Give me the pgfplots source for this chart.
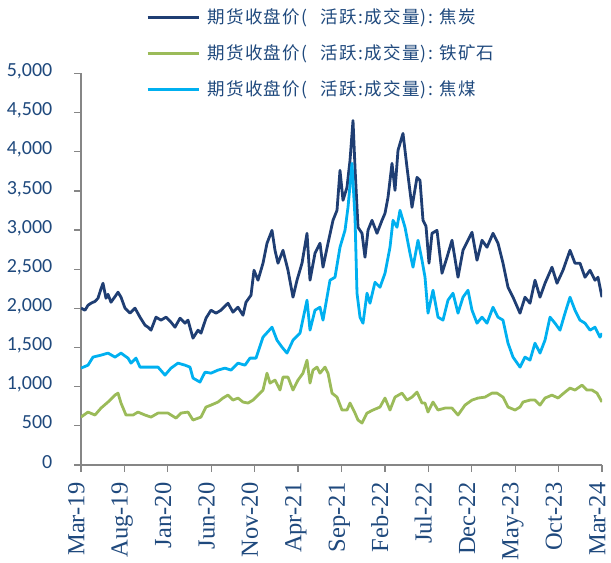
\documentclass[border=0pt]{standalone}
\usepackage{pgfplots}
\pgfplotsset{compat=1.18}
\usepackage{fontspec}
\setmainfont{Carlito}
\newfontfamily\timesf{Liberation Serif}
\newfontfamily\cjk[LetterSpace=8]{Noto Sans CJK SC}
\definecolor{cokec}{RGB}{31,62,115}
\definecolor{orec}{RGB}{155,187,89}
\definecolor{coalc}{RGB}{0,176,240}
\definecolor{labc}{RGB}{31,73,125}
\definecolor{axc}{RGB}{134,134,134}
\newcommand{\lgd}[1]{期货收盘价(\hspace{13bp}活跃:\hspace{1bp}成交量):\hspace{6bp}#1}
\begin{document}
\begin{tikzpicture}
\path[use as bounding box] (-81bp,-98bp) rectangle (530bp,465bp);
\begin{axis}[
  scale only axis, width=521bp, height=391.5bp,
  xmin=81, xmax=602, ymin=0, ymax=5000,
  axis x line*=bottom, axis y line*=left,
  axis line style={draw=axc, line width=1.2bp, -},
  tick align=outside,
  major tick length=6.5bp,
  tick style={draw=axc, line width=1.2bp},
  xtick={81,124.42,167.83,211.25,254.67,298.08,341.5,384.92,428.33,471.75,515.17,558.58,602},
  xticklabels={Mar-19,Aug-19,Jan-20,Jun-20,Nov-20,Apr-21,Sep-21,Feb-22,Jul-22,Dec-22,May-23,Oct-23,Mar-24},
  ytick={0,500,...,5000},
  scaled y ticks=false,
  /pgf/number format/1000 sep={,},
  /pgf/number format/assume math mode=true,
  xticklabel shift=11bp,
  yticklabel shift=22bp,
  xticklabel style={font=\timesf\fontsize{24.5bp}{28bp}\selectfont, text=labc, rotate=90, anchor=east, inner sep=0pt, text height=0.75em, text depth=0.09em},
  yticklabel style={font=\fontsize{20bp}{24bp}\selectfont, text=labc, anchor=east, inner sep=0pt, text height=0.632em, text depth=0pt},
  legend style={draw=none, fill=none, at={(0,1)}, anchor=north west, xshift=65bp, yshift=74.5bp, inner sep=0pt, outer sep=0pt, row sep=0pt, column sep=7bp, font=\cjk\fontsize{17.5bp}{22bp}\selectfont, text=labc, nodes={inner sep=0pt, text height=25bp, text depth=11bp, anchor=base west}},
  legend image code/.code={\draw[#1, line width=3.2bp] (0bp,6.8bp) -- (51bp,6.8bp);},
  legend cell align=left,
  every axis plot/.append style={line width=2.8bp, line join=round, no marks},
]
\addplot[cokec] coordinates {
(81,2003)(85,1977)(88,2040)(91,2066)(95,2090)(98,2130)(101,2250)(103,2321)(106,2130)(108,2180)(111,2079)(115,2150)(118,2207)(121,2143)(125,2003)(130,1939)(135,2003)(140,1888)(145,1786)(148,1760)(151,1722)(156,1888)(161,1850)(166,1888)(171,1824)(175,1760)(180,1875)(185,1811)(188,1850)(193,1620)(198,1722)(201,1684)(206,1875)(211,1977)(216,1939)(221,1977)(228,2066)(233,1952)(238,2015)(243,1913)(246,2079)(251,2168)(254,2487)(258,2360)
(263,2577)(267,2832)(272,2997)(275,2742)(278,2577)(283,2742)(288,2487)(293,2143)(297,2360)(302,2577)(307,2959)(310,2360)(315,2704)(320,2832)(323,2526)(328,2832)(333,3125)(337,3253)(340,3763)(343,3380)(347,3546)(350,3890)(353,4400)(355,3801)(358,3036)(362,2959)(365,2653)(368,2997)(372,3125)(377,2959)(382,3125)(385,3214)(388,3418)(392,3852)(395,3508)(398,4018)(403,4235)(407,3801)(412,3291)(417,3673)(420,3635)(423,3125)(426,3050)(429,2577)(432,2959)
(437,2997)(442,2449)(447,2653)(452,2870)(458,2398)(463,2742)(468,2870)(472,2972)(477,2615)(482,2870)(487,2781)(493,2959)(498,2832)(503,2577)(508,2270)(513,2143)(520,1939)(525,2143)(530,2066)(535,2360)(540,2143)(545,2321)(552,2526)(557,2321)(563,2487)(570,2742)(575,2577)(580,2577)(585,2398)(590,2487)(595,2360)(598,2398)(602,2143)
};
\addlegendentry{\lgd{焦炭}}
\addplot[orec] coordinates {
(81,612)(88,676)(95,638)(101,727)(108,804)(115,893)(118,918)(121,791)(126,638)(133,638)(138,676)(145,638)(151,612)(158,663)(168,663)(176,599)(181,663)(188,676)(193,574)(201,612)(206,740)(211,765)(218,804)(223,855)(228,893)(233,829)(238,855)(243,804)(248,791)(253,829)(258,893)
(263,957)(267,1173)(270,1046)(275,1084)(280,957)(283,1122)(288,1122)(293,957)(298,1084)(303,1173)(307,1339)(310,1046)(313,1212)(317,1250)(320,1173)(325,1250)(328,1173)(332,918)(337,867)(342,702)(347,702)(350,791)(355,663)(358,574)(362,536)(367,663)(373,702)(380,740)(385,855)(390,702)(395,867)(402,918)(407,829)(412,867)(417,931)(422,791)(425,791)(428,676)
(433,804)(438,702)(445,727)(452,727)(458,638)(465,765)(472,829)(478,855)(485,867)(492,918)(497,918)(503,867)(508,740)(515,702)(520,740)(523,804)(530,829)(535,829)(540,765)(545,855)(552,893)(558,855)(565,931)(570,982)(575,957)(582,1020)(587,957)(592,957)(597,918)(602,804)
};
\addlegendentry{\lgd{铁矿石}}
\addplot[coalc] coordinates {
(81,1237)(88,1275)(93,1378)(101,1403)(108,1429)(115,1378)(121,1429)(128,1365)(131,1301)(136,1365)(140,1250)(148,1250)(158,1250)(165,1148)(171,1237)(178,1301)(185,1275)(190,1250)(193,1110)(200,1059)(205,1186)(211,1173)(218,1212)(225,1237)(231,1212)(238,1301)(245,1275)(250,1365)(256,1365)
(263,1633)(272,1760)(277,1594)(282,1505)(287,1429)(293,1594)(300,1684)(307,2105)(310,1722)(315,1977)(320,2015)(323,1850)(330,2360)(335,2398)(340,2781)(345,2997)(348,3291)(352,3852)(355,3163)(357,2194)(360,1888)(363,1811)(367,2194)(370,2066)(375,2334)(380,2270)(385,2449)(390,2781)(393,3125)(397,3036)(400,3253)(405,3036)(410,2704)(413,2526)(418,2870)(422,2615)(425,2400)(428,1939)
(433,2232)(438,1888)(443,1850)(448,2105)(453,2194)(458,1939)(463,2143)(468,2232)(472,1977)(477,1811)(482,1888)(487,1811)(493,2015)(498,1888)(503,1850)(508,1556)(513,1378)(520,1250)(525,1378)(530,1339)(535,1556)(540,1429)(545,1594)(550,1888)(555,1811)(560,1722)(565,1939)(570,2143)(575,1977)(580,1850)(585,1811)(590,1722)(595,1760)(600,1633)(602,1684)
};
\addlegendentry{\lgd{焦煤}}
\end{axis}
\end{tikzpicture}
\end{document}
